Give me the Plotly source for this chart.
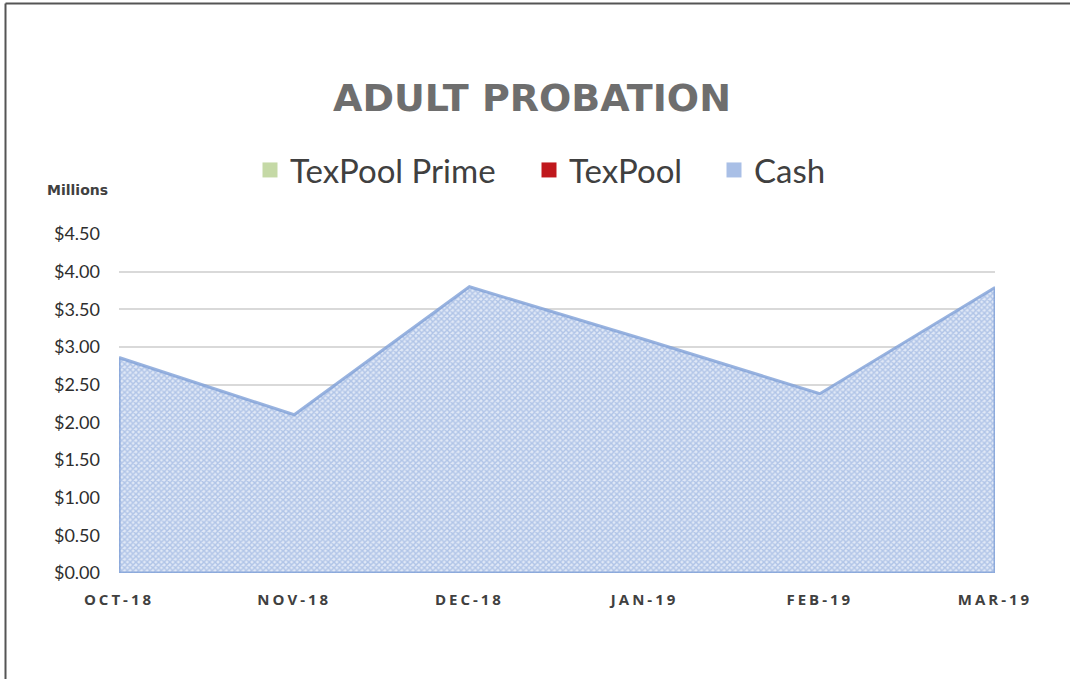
import plotly.graph_objects as go

months = ["OCT-18", "NOV-18", "DEC-18", "JAN-19", "FEB-19", "MAR-19"]
texpool_prime = [0, 0, 0, 0, 0, 0]
texpool = [0, 0, 0, 0, 0, 0]
cash = [2.86, 2.10, 3.80, 3.10, 2.38, 3.79]
y_ticks = [0, 0.5, 1.0, 1.5, 2.0, 2.5, 3.0, 3.5, 4.0, 4.5]
y_ticklabels = ["$%.2f" % v for v in y_ticks]
series_names = ["TexPool Prime", "TexPool", "Cash"]
series_colors = ["#c5d9a6", "#c0181d", "#a9bfe6"]

W, H = 1070, 679
PL, PR, PT, PB = 119, 995, 234, 573   # plot area in page pixels
L, T = PL, PT
pw, ph = PR - PL, PB - PT
R = W - L - pw
B = H - T - ph

def px_x(px):
    return (px - PL) / pw

def px_y(py):
    return (PB - py) / ph

fig = go.Figure()

fig.add_trace(go.Scatter(x=months, y=texpool_prime, mode="lines",
                         line=dict(width=0, color=series_colors[0]),
                         showlegend=False, hoverinfo="skip"))
fig.add_trace(go.Scatter(x=months, y=texpool, mode="lines",
                         line=dict(width=0, color=series_colors[1]),
                         showlegend=False, hoverinfo="skip"))

# Cash area: closed outline (top edge, down to zero, back along the base)
base = [a + b for a, b in zip(texpool_prime, texpool)]
cash_top = [c + b for c, b in zip(cash, base)]
cash_x = months + [months[-1], months[0], months[0]]
cash_y = cash_top + [base[-1], base[0], cash_top[0]]
fig.add_trace(go.Scatter(x=cash_x, y=cash_y, mode="lines", fill="toself",
                         line=dict(width=3, color="rgba(128,160,215,0.8)"),
                         fillpattern=dict(shape="x", size=4, solidity=0.6,
                                          fgcolor="#7fa0d8", bgcolor="#e0e8f6"),
                         showlegend=False, hoverinfo="skip"))

# Legend entries, each in its own legend so they can be placed like the original
legend_x = [250, 529, 714]
legend_names = ["legend", "legend2", "legend3"]
for name, col, lg in zip(series_names, series_colors, legend_names):
    fig.add_trace(go.Scatter(x=[None], y=[None], mode="markers", name=name, legend=lg,
                             marker=dict(symbol="square", size=15, color=col,
                                         line=dict(width=0))))

legend_common = dict(orientation="h", xanchor="left", y=px_y(170), yanchor="middle",
                     font=dict(family="Lato", size=33, color="#404040"),
                     itemsizing="trace", bgcolor="rgba(0,0,0,0)")

fig.update_layout(
    width=W, height=H,
    margin=dict(l=L, r=R, t=T, b=B),
    paper_bgcolor="white", plot_bgcolor="white",
    title=dict(text="ADULT PROBATION", x=px_x(532), xref="paper", xanchor="center",
               y=1 - 98 / H, yanchor="middle",
               font=dict(family="DejaVu Sans", size=38, color="#6e6e6e", weight="bold")),
    showlegend=True,
    legend=dict(x=px_x(legend_x[0]), **legend_common),
    legend2=dict(x=px_x(legend_x[1]), **legend_common),
    legend3=dict(x=px_x(legend_x[2]), **legend_common),
    xaxis=dict(type="category", range=[0, len(months) - 1], showgrid=False, zeroline=False,
               showline=False, ticks="", ticklabelstandoff=16,
               tickfont=dict(family="Open Sans", size=15, color="#404040", weight="bold")),
    yaxis=dict(range=[0, 4.5], tickvals=y_ticks, ticktext=y_ticklabels,
               showgrid=True, gridcolor="#d9d9d9", gridwidth=1.5, zeroline=False,
               showline=False, ticks="", ticklabelstandoff=18,
               tickfont=dict(family="Lato", size=18, color="#2e2e2e")),
    annotations=[dict(text="<b>Millions</b>", x=px_x(77), y=px_y(190), xref="paper", yref="paper",
                      xanchor="center", yanchor="middle", showarrow=False,
                      font=dict(family="DejaVu Sans", size=14, color="#404040"))],
    shapes=[
        dict(type="line", xref="paper", yref="paper", x0=px_x(5.5), x1=px_x(5.5),
             y0=px_y(3.5), y1=px_y(700), line=dict(color="#555555", width=2)),
        dict(type="line", xref="paper", yref="paper", x0=px_x(5.5), x1=px_x(1090),
             y0=px_y(3.5), y1=px_y(3.5), line=dict(color="#555555", width=2)),
    ],
)

post_js = """
document.body.style.margin = '0';
document.body.style.overflow = 'hidden';
function spaceTicks() {
  document.querySelectorAll('.xtick text').forEach(function (t) {
    t.style.letterSpacing = '3px';
  });
}
spaceTicks();
var gd = document.getElementsByClassName('plotly-graph-div')[0];
if (gd && gd.on) { gd.on('plotly_afterplot', spaceTicks); }
"""

fig.write_html("out.html", post_script=post_js, config={"displayModeBar": False})
